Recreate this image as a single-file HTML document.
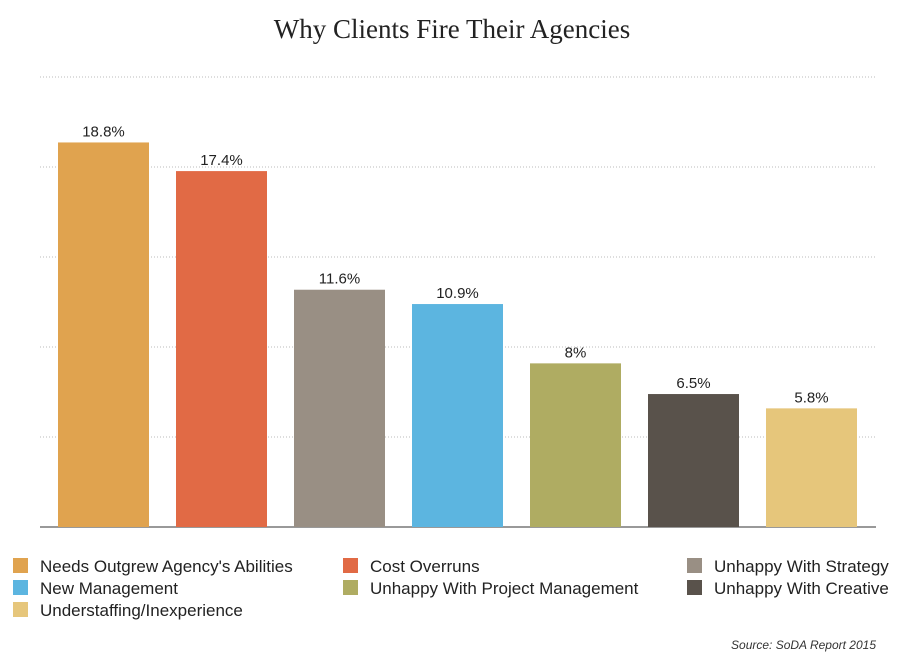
<!DOCTYPE html>
<html><head><meta charset="utf-8"><style>
body{margin:0;background:#fff;width:917px;height:661px;overflow:hidden;font-family:"Liberation Sans",sans-serif}
svg text{font-family:"Liberation Sans",sans-serif}
</style></head><body>
<svg id="chart" width="917" height="661">
<text x="452" y="38" text-anchor="middle" font-family="Liberation Serif" style="font-family:'Liberation Serif',serif" font-size="27" fill="#222">Why Clients Fire Their Agencies</text>
<g id="grid"></g><g id="bars"></g><g id="legend"></g>
<text x="876" y="649" text-anchor="end" font-size="12" font-style="italic" fill="#333">Source: SoDA Report 2015</text>
</svg>
<script>
const categories=["Needs Outgrew Agency's Abilities","Cost Overruns","Unhappy With Strategy","New Management","Unhappy With Project Management","Unhappy With Creative","Understaffing/Inexperience"];
const values=[18.8,17.4,11.6,10.9,8,6.5,5.8];
const labels=["18.8%","17.4%","11.6%","10.9%","8%","6.5%","5.8%"];
const colors=["#e0a34f","#e16a45","#998f84","#5cb5e0","#afac62","#59524b","#e6c67b"];
const legendOrder=[0,1,2,3,4,5,6];
const ns="http://www.w3.org/2000/svg";
const y0=527,yMax=22,plotH=450,x0=40,x1=876,step=118,bw=91,bx0=58;
const y=v=>y0-v/yMax*plotH;
const x=i=>bx0+i*step;
function mk(t,a,p){const e=document.createElementNS(ns,t);for(const k in a)e.setAttribute(k,a[k]);p.appendChild(e);return e;}
const grid=document.getElementById('grid');
for(let k=1;k<=5;k++){const gy=y(yMax*k/5);
const l=mk('line',{x1:x0,x2:x1,y1:gy,y2:gy,stroke:'#bbb','stroke-dasharray':'1,2'},grid);

}
const ax=mk('line',{x1:x0,x2:x1,y1:y0,y2:y0,stroke:'#333','stroke-width':1},grid);


const bars=document.getElementById('bars');
values.forEach((v,i)=>{
const r=mk('rect',{x:x(i),y:y(v),width:bw,height:y0-y(v),fill:colors[i]},bars);


const t=mk('text',{x:x(i)+bw/2,y:y(v)-6,'text-anchor':'middle','font-size':15,fill:'#222'},bars);
t.textContent=labels[i];


});
const lg=document.getElementById('legend');
const colX=[13,343,687],rowY=[566,588,610];
legendOrder.forEach((ci,k)=>{
const cx=colX[k%3],cy=rowY[Math.floor(k/3)];
const g=mk('g',{},lg);


mk('rect',{x:cx,y:cy-8,width:15,height:15,fill:colors[ci]},g);
const t=mk('text',{x:cx+27,y:cy+6,'font-size':17,fill:'#222'},g);
t.textContent=categories[ci];
});
</script>
</body></html>
